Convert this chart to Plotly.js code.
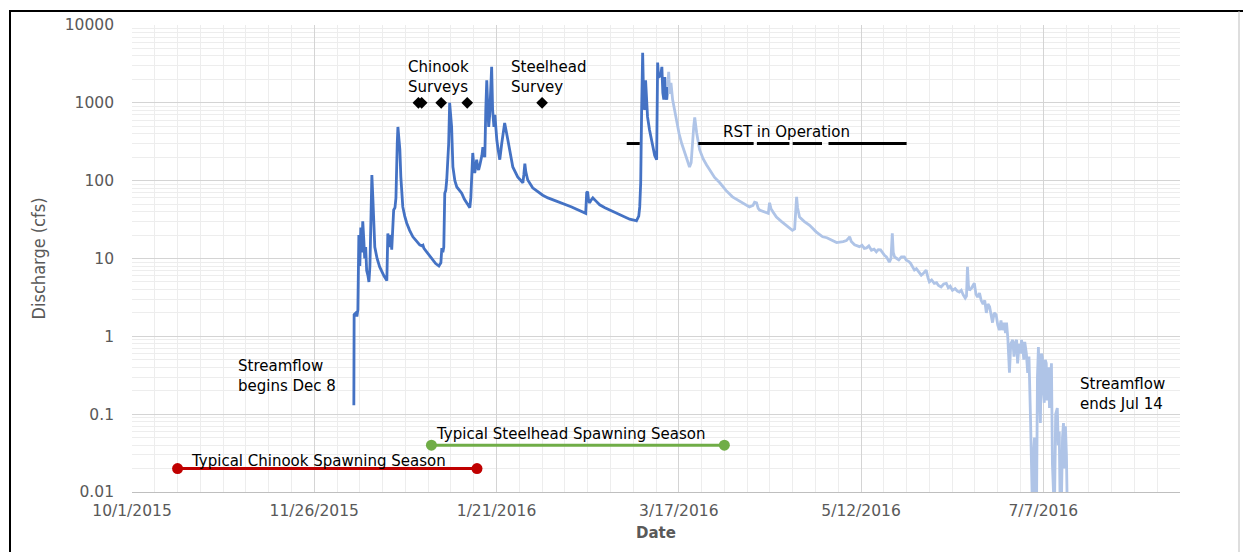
<!DOCTYPE html>
<html>
<head>
<meta charset="utf-8">
<script src="https://cdn.plot.ly/plotly-3.0.1.min.js"></script>
<style>
  html, body { margin: 0; padding: 0; background: #fff; }
  #chart { width: 1243px; height: 552px; }
</style>
</head>
<body>
<div id="chart"></div>
<script>
// Discharge record, water year 2016. Days are counted from Oct 1, 2015 (water-year day).
// Provisional, pre-March-14 record (darker line)
const earlyDay = [
  68.16, 68.25, 68.8, 69.1, 69.4, 69.7, 70.0, 70.3, 70.6, 70.9, 71.2, 71.5, 71.8, 72.1, 72.5, 72.8,
  73.1, 73.4, 73.7, 74.0, 74.3, 74.6, 75.3, 76.1, 77.4, 78.3, 78.6, 78.9, 79.2, 79.5, 79.8, 80.1,
  80.4, 80.8, 81.1, 81.5, 81.7, 82.0, 82.3, 82.6, 82.9, 83.2, 83.8, 84.4, 85.3, 86.3, 87.3, 88.4,
  89.1, 89.4, 89.7, 90.6, 91.8, 92.4, 93.3, 94.3, 94.9, 95.2, 95.5, 95.8, 96.1, 96.4, 96.7, 97.3,
  97.6, 97.9, 98.2, 98.6, 99.2, 99.8, 100.5, 101.3, 102.1, 102.9, 103.4, 103.8, 104.1, 104.4, 104.7, 105.0,
  105.3, 105.6, 105.9, 106.2, 106.5, 106.9, 107.2, 107.5, 107.8, 108.1, 108.4, 108.7, 109.0, 109.3, 109.6, 109.9,
  110.2, 110.5, 110.8, 111.2, 111.5, 111.8, 112.1, 112.5, 113.0, 113.6, 114.5, 115.5, 116.2, 117.0, 118.5, 120.1,
  120.4, 120.7, 121.0, 121.6, 123.1, 124.6, 126.2, 127.8, 129.3, 131.5, 133.6, 135.1, 136.6, 138.0, 139.4, 139.7,
  140.0, 140.3, 140.6, 141.0, 141.6, 142.5, 143.7, 145.3, 146.8, 148.3, 149.8, 151.4, 152.9, 154.5, 155.0, 155.4,
  155.7, 156.0, 156.3, 156.6, 156.9, 157.2, 157.5, 157.8, 158.1, 158.4, 159.0, 159.7, 160.2, 160.6, 161.2, 161.5,
  161.8, 162.1, 162.4, 162.8, 163.1, 163.4, 163.7, 164.0, 164.3, 164.6
];
const earlyCfs = [
  0.13, 1.9, 2.0, 1.8, 2.2, 20, 8, 25, 12, 30, 18, 10, 14, 7, 6, 5,
  8, 40, 118, 60, 25, 14, 10, 7.8, 6, 5.2, 21, 14, 18, 20, 13, 20,
  42, 45, 60, 300, 490, 350, 250, 112, 65, 46, 35, 28.6, 23, 19, 17, 15,
  14.5, 14.8, 13.5, 12, 10.5, 9.5, 8.6, 8.0, 8.8, 13.6, 12, 14, 69, 75, 102, 300,
  1000, 700, 490, 150, 100, 83, 75, 69, 58, 51, 48, 45, 60, 137, 227, 160,
  125, 150, 186, 150, 137, 160, 180, 210, 270, 230, 200, 800, 1950, 900, 490, 700,
  1500, 2900, 810, 490, 700, 450, 330, 250, 186, 300, 550, 330, 220, 150, 112, 94,
  120, 165, 130, 102, 81, 72, 65, 60, 57, 53, 49, 46, 43, 40, 38, 70,
  72, 55, 52, 56, 60, 55, 49, 45, 42, 39, 36.5, 34, 32, 31, 30.5, 33,
  35, 46, 94, 890, 4400, 1100, 810, 1950, 1100, 660, 450, 330, 260, 210, 186, 3300,
  2100, 2300, 2140, 2900, 1340, 1100, 2140, 1200, 1100, 1600
];

// Remainder of the record through the end of flow (lighter line)
const lateDay = [
  164.6, 164.9, 165.2, 165.6, 166.1, 166.7, 167.3, 168.1, 168.9, 169.6, 170.4, 171.3, 171.8, 172.2, 172.6, 172.9,
  173.2, 173.5, 174.4, 175.5, 176.5, 177.5, 179.0, 180.6, 182.5, 184.5, 186.5, 188.0, 189.7, 190.8, 191.3, 191.9,
  192.4, 192.8, 194.5, 195.5, 195.9, 196.3, 196.9, 198.0, 199.5, 201.0, 202.0, 202.9, 203.6, 204.2, 204.5, 205.1,
  206.5, 208.2, 210.2, 212.2, 213.5, 214.5, 216.5, 218.5, 219.5, 220.5, 221.0, 222.0, 223.5, 224.3, 225.0, 225.7,
  226.4, 227.2, 228.0, 228.7, 229.3, 230.0, 230.7, 231.2, 231.8, 232.4, 232.7, 233.2, 233.6, 233.9, 234.3, 235.0,
  235.6, 236.4, 237.3, 237.9, 238.6, 239.2, 239.8, 240.4, 241.0, 241.9, 242.5, 243.1, 244.0, 244.6, 245.0, 245.7,
  246.5, 247.2, 247.8, 248.6, 249.4, 250.2, 250.8, 251.4, 252.1, 252.9, 253.6, 254.2, 254.8, 255.4, 256.0, 256.4,
  256.7, 257.0, 257.3, 258.0, 258.8, 259.3, 259.8, 260.4, 260.9, 261.5, 262.0, 262.5, 263.0, 263.5, 264.0, 264.4,
  264.9, 265.5, 266.0, 266.5, 267.0, 267.4, 267.9, 268.4, 268.7, 269.1, 269.6, 270.0, 270.6, 271.0, 271.5, 271.8,
  272.1, 272.6, 273.0, 273.3, 273.7, 274.0, 274.3, 274.8, 275.2, 275.6, 276.1, 276.4, 276.7, 277.0, 277.3, 277.6,
  277.9, 278.2, 278.5, 278.8, 279.1, 279.4, 279.7, 280.0, 280.3, 280.6, 280.9, 281.2, 281.6, 281.9, 282.2, 282.5,
  282.8, 283.1, 283.4, 283.8, 284.3, 284.6, 284.9, 285.2, 285.5, 285.9, 286.2, 286.5, 286.8, 287.1, 287.4
];
const lateCfs = [
  1600, 2500, 1300, 1800, 1100, 800, 550, 400, 300, 240, 200, 150, 170, 330, 500, 650,
  450, 410, 250, 190, 160, 137, 110, 94, 75, 62, 55, 50, 46, 48, 53, 52,
  44, 42, 40, 38, 52, 44, 40, 34, 30, 27, 25, 23, 24, 62, 45, 34,
  30, 26.7, 22, 19, 18.5, 17.5, 16, 16.5, 17, 19, 16.5, 15, 14.2, 14.8, 13.5, 13.7,
  14.5, 12.8, 13.2, 12.2, 13, 12.9, 11.5, 11, 10.5, 9.5, 9.0, 10, 21, 12, 10.5, 10,
  9.6, 10.5, 10.5, 9.5, 9.2, 8.7, 8.0, 7.1, 7.4, 6.5, 6.1, 6.4, 7.1, 5.6, 5.0, 5.3,
  4.8, 4.9, 4.5, 4.3, 4.7, 4.8, 4.2, 4.4, 3.9, 4.1, 3.8, 3.7, 3.9, 3.4, 3.1, 3.3,
  7.8, 4.5, 3.9, 4.2, 4.8, 3.5, 3.2, 3.6, 2.9, 2.6, 2.9, 2.0, 2.6, 2.4, 1.8, 1.5,
  2.0, 1.9, 1.4, 1.2, 1.6, 1.2, 1.5, 1.1, 1.5, 0.95, 0.34, 0.8, 0.9, 0.55, 0.84, 0.9,
  0.45, 0.8, 0.6, 0.9, 0.73, 0.5, 0.85, 0.6, 0.34, 0.55, 0.077, 0.005, 0.005, 0.03, 0.05, 0.005,
  0.005, 0.3, 0.73, 0.2, 0.077, 0.6, 0.54, 0.2, 0.14, 0.5, 0.45, 0.15, 0.4, 0.12, 0.3, 0.45,
  0.023, 0.005, 0.005, 0.1, 0.12, 0.04, 0.06, 0.005, 0.005, 0.05, 0.077, 0.02, 0.07, 0.03, 0.005
];

// Field activities
const chinookSurveyDates = ['2015-12-28', '2015-12-29', '2016-01-04', '2016-01-12'];
const steelheadSurveyDates = ['2016-02-04'];
const surveyLevel = 1000;

const rstStarts = ['2016-03-01', '2016-03-23', '2016-04-10', '2016-04-21', '2016-05-02'];
const rstEnds   = ['2016-03-05', '2016-04-09', '2016-04-20', '2016-04-30', '2016-05-26'];
const rstLevel = 300;

const chinookSpawning = ['2015-10-15', '2016-01-15'];
const chinookLevel = 0.02;
const steelheadSpawning = ['2016-01-01', '2016-03-31'];
const steelheadLevel = 0.04;

// Axis labelling
const yTickVals = [0.01, 0.1, 1, 10, 100, 1000, 10000];
const yTickText = ['0.01', '0.1', '1', '10', '100', '1000', '10000'];

// ---------------------------------------------------------------------------
const DAY_MS = 86400000;
const WY_START = Date.UTC(2015, 9, 1);
function wyDate(day) {
  return new Date(WY_START + day * DAY_MS).toISOString().slice(0, 16).replace('T', ' ');
}

const minorY = [];
for (let e = -2; e < 4; e++) {
  for (let m = 2; m <= 9; m++) minorY.push(m * Math.pow(10, e));
}

const rstX = [], rstY = [];
rstStarts.forEach((s, i) => {
  rstX.push(s, rstEnds[i], null);
  rstY.push(rstLevel, rstLevel, null);
});

const FONT = 'DejaVu Sans, Verdana, sans-serif';
const GREY = '#595959';

const traces = [
  {
    x: earlyDay.map(wyDate), y: earlyCfs, type: 'scatter', mode: 'lines',
    line: { color: '#4472C4', width: 2.8 }, hoverinfo: 'skip'
  },
  {
    x: lateDay.map(wyDate), y: lateCfs, type: 'scatter', mode: 'lines',
    line: { color: '#AFC4E7', width: 2.8 }, hoverinfo: 'skip'
  },
  {
    x: chinookSpawning, y: chinookSpawning.map(() => chinookLevel), type: 'scatter', mode: 'lines+markers',
    line: { color: '#C00000', width: 3 }, marker: { color: '#C00000', size: 11, symbol: 'circle' },
    cliponaxis: false, hoverinfo: 'skip'
  },
  {
    x: steelheadSpawning, y: steelheadSpawning.map(() => steelheadLevel), type: 'scatter', mode: 'lines+markers',
    line: { color: '#70AD47', width: 3 }, marker: { color: '#70AD47', size: 11, symbol: 'circle' },
    cliponaxis: false, hoverinfo: 'skip'
  },
  {
    x: rstX, y: rstY, type: 'scatter', mode: 'lines',
    line: { color: '#000000', width: 3 }, hoverinfo: 'skip'
  },
  {
    x: chinookSurveyDates.concat(steelheadSurveyDates),
    y: chinookSurveyDates.concat(steelheadSurveyDates).map(() => surveyLevel),
    type: 'scatter', mode: 'markers',
    marker: { color: '#000000', size: 9, symbol: 'diamond' }, hoverinfo: 'skip'
  }
];

// plot-area pixel helpers for the frame and text placement
const PL = 132, PR = 1180, PT = 25, PB = 492;
const px = v => (v - PL) / (PR - PL);
const py = v => (PB - v) / (PB - PT);

function note(text, x, y, xanchor) {
  return {
    text: text, xref: 'paper', yref: 'paper', x: px(x), y: py(y),
    xanchor: xanchor || 'left', yanchor: 'middle', align: xanchor === 'center' ? 'center' : 'left',
    showarrow: false, font: { family: FONT, size: 15, color: '#000000' }
  };
}

const layout = {
  width: 1243, height: 552,
  margin: { l: PL, r: 1243 - PR, t: PT, b: 552 - PB, pad: 0 },
  paper_bgcolor: '#ffffff', plot_bgcolor: '#ffffff',
  showlegend: false,
  xaxis: {
    type: 'date',
    range: ['2015-10-01', '2016-08-18'],
    tick0: '2015-10-01', dtick: 56 * DAY_MS,
    tickformat: '%-m/%-d/%Y',
    ticks: '', ticklabelstandoff: 4,
    showgrid: true, gridcolor: '#D4D4D4', gridwidth: 1,
    minor: { tick0: '2015-10-01', dtick: 7 * DAY_MS, showgrid: true, gridcolor: '#EDEDED', gridwidth: 1 },
    showline: true, linecolor: '#BFBFBF', linewidth: 1,
    zeroline: false,
    tickfont: { family: FONT, size: 15.5, color: GREY },
    title: { text: 'Date', font: { family: FONT, size: 15, color: GREY, weight: 'bold' }, standoff: 8 }
  },
  yaxis: {
    type: 'log', range: [-2, 4],
    tickmode: 'array', tickvals: yTickVals, ticktext: yTickText,
    ticks: '', ticklabelstandoff: 17,
    showgrid: true, gridcolor: '#D4D4D4', gridwidth: 1,
    minor: { tickmode: 'array', tickvals: minorY, showgrid: true, gridcolor: '#EDEDED', gridwidth: 1 },
    showline: false, zeroline: false,
    tickfont: { family: FONT, size: 15.5, color: GREY },
    title: {
      text: 'Discharge (cfs)',
      font: { family: 'Liberation Sans Narrow, DejaVu Sans Condensed, Arial Narrow, sans-serif', size: 18, color: GREY },
      standoff: 14
    }
  },
  annotations: [
    note('Streamflow<br>begins Dec 8', 236, 376),
    note('Chinook<br>Surveys', 406, 77),
    note('Steelhead<br>Survey', 509, 77),
    note('RST in Operation', 786, 132, 'center'),
    note('Typical Chinook Spawning Season', 189, 461),
    note('Typical Steelhead Spawning Season', 434, 434),
    note('Streamflow<br>ends Jul 14', 1078, 394)
  ],
  shapes: [
    { type: 'line', xref: 'paper', yref: 'paper', x0: px(9), x1: px(1243), y0: py(11), y1: py(11),
      line: { color: '#000000', width: 2 } },
    { type: 'line', xref: 'paper', yref: 'paper', x0: px(10), x1: px(10), y0: py(10), y1: py(560),
      line: { color: '#000000', width: 2 } },
    { type: 'line', xref: 'paper', yref: 'paper', x0: px(1239), x1: px(1239), y0: py(11), y1: py(560),
      line: { color: '#BDBDBD', width: 1 } }
  ]
};

Plotly.newPlot('chart', traces, layout, { staticPlot: true, displayModeBar: false });
</script>
</body>
</html>
